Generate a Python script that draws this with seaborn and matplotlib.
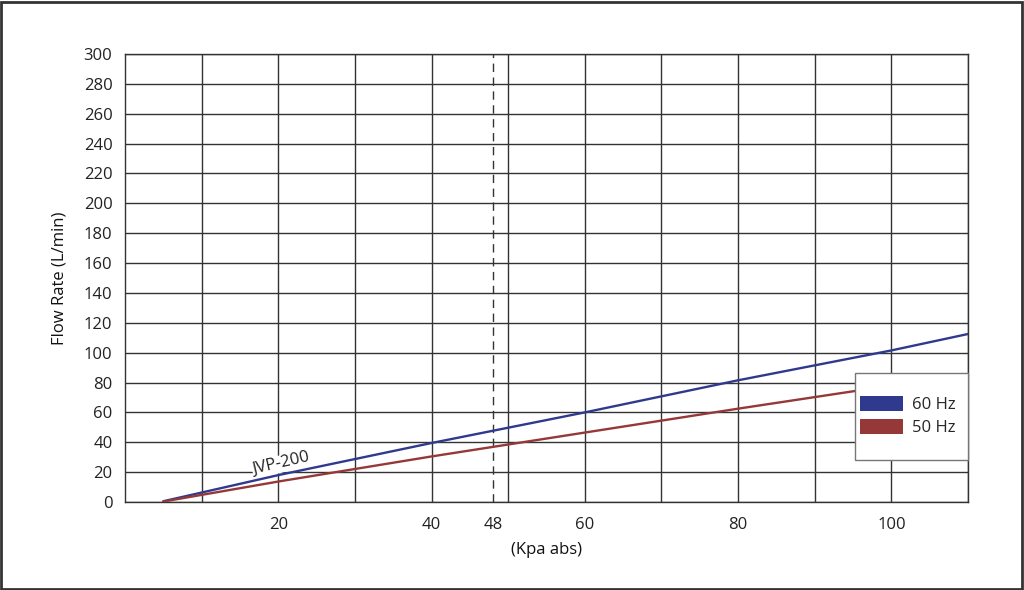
import pandas as pd
import matplotlib.pyplot as plt
import seaborn as sns
from matplotlib.patches import Patch, Rectangle

# valores
presion = [5, 20, 40, 60, 80, 100, 110]
caudal_60hz = [0.5, 18, 39.5, 60, 81.5, 101.5, 112.5]
caudal_50hz = [0.3, 13.7, 30.5, 46.5, 62.5, 78, 84]
series = ["60 Hz", "50 Hz"]
colores = {"60 Hz": "#2f3a8f", "50 Hz": "#963838"}
ticks_x = [20, 40, 48, 60, 80, 100]
grid_x = list(range(10, 111, 10))
ticks_y = list(range(0, 301, 20))

df = pd.concat([
    pd.DataFrame({"kpa": presion, "flow": caudal_60hz, "serie": "60 Hz"}),
    pd.DataFrame({"kpa": presion, "flow": caudal_50hz, "serie": "50 Hz"}),
])

sns.set_theme(style="white")
plt.rcParams['font.family'] = ['Open Sans', 'DejaVu Sans']

fig = plt.figure(figsize=(10.24, 5.9), dpi=100)
ax = fig.add_axes([125 / 1024, 1 - 502 / 590, (968 - 125) / 1024, (502 - 54) / 590])

sns.lineplot(data=df, x="kpa", y="flow", hue="serie", hue_order=series,
             palette=colores, linewidth=1.7, legend=False, ax=ax, zorder=3)

ax.set_xlim(0, 110)
ax.set_ylim(0, 300)
ax.set_xticks(ticks_x)
ax.set_yticks(ticks_y)
ax.grid(False)
for v in grid_x:
    ax.axvline(v, color="#333333", linewidth=1, zorder=1)
ax.grid(True, which="major", axis="y", color="#333333", linewidth=1)
ax.tick_params(axis="both", which="both", length=0, labelsize=12, colors="#222222")
ax.tick_params(axis="x", pad=11)
ax.tick_params(axis="y", pad=9)
for s in ax.spines.values():
    s.set_color("#333333")
    s.set_linewidth(1)
ax.set_axisbelow(True)

ax.axvline(48, color="#333333", linewidth=1, linestyle=(0, (6, 4)), zorder=2)

ax.text(20.4, 25.5, "JVP-200", rotation=13, ha="center", va="center", fontsize=12,
        color="#222222", bbox=dict(facecolor="white", edgecolor="none", pad=0.5), zorder=2.5)

ax.set_xlabel("(Kpa abs)", fontsize=12, color="#111111", labelpad=6)
ax.set_ylabel("Flow Rate (L/min)", fontsize=12, color="#111111", labelpad=12)

# caja de la leyenda (opaca, tapa la linea roja)
x0 = (855 - 125) / 843
y0 = (502 - 460) / 448
ax.add_patch(Rectangle((x0, y0), 1 - x0, (460 - 373) / 448, transform=ax.transAxes,
                       facecolor="white", edgecolor="#777777", linewidth=1, zorder=4,
                       clip_on=False))

handles = [Patch(facecolor=colores[s], edgecolor="none", label=s) for s in series]
leg = ax.legend(handles=handles, loc="upper left",
                bbox_to_anchor=((860 - 125) / 843, (502 - 396) / 448),
                frameon=False, fontsize=12, handlelength=2.6, handleheight=1.0,
                borderpad=0, labelspacing=0.35, handletextpad=0.5, borderaxespad=0)
leg.set_zorder(5)

fig.patches.append(Rectangle((0.001, 0.002), 0.997, 0.995, transform=fig.transFigure,
                             fill=False, edgecolor="#333333", linewidth=2))

fig.savefig("out.png", dpi=100)
plt.close(fig)
